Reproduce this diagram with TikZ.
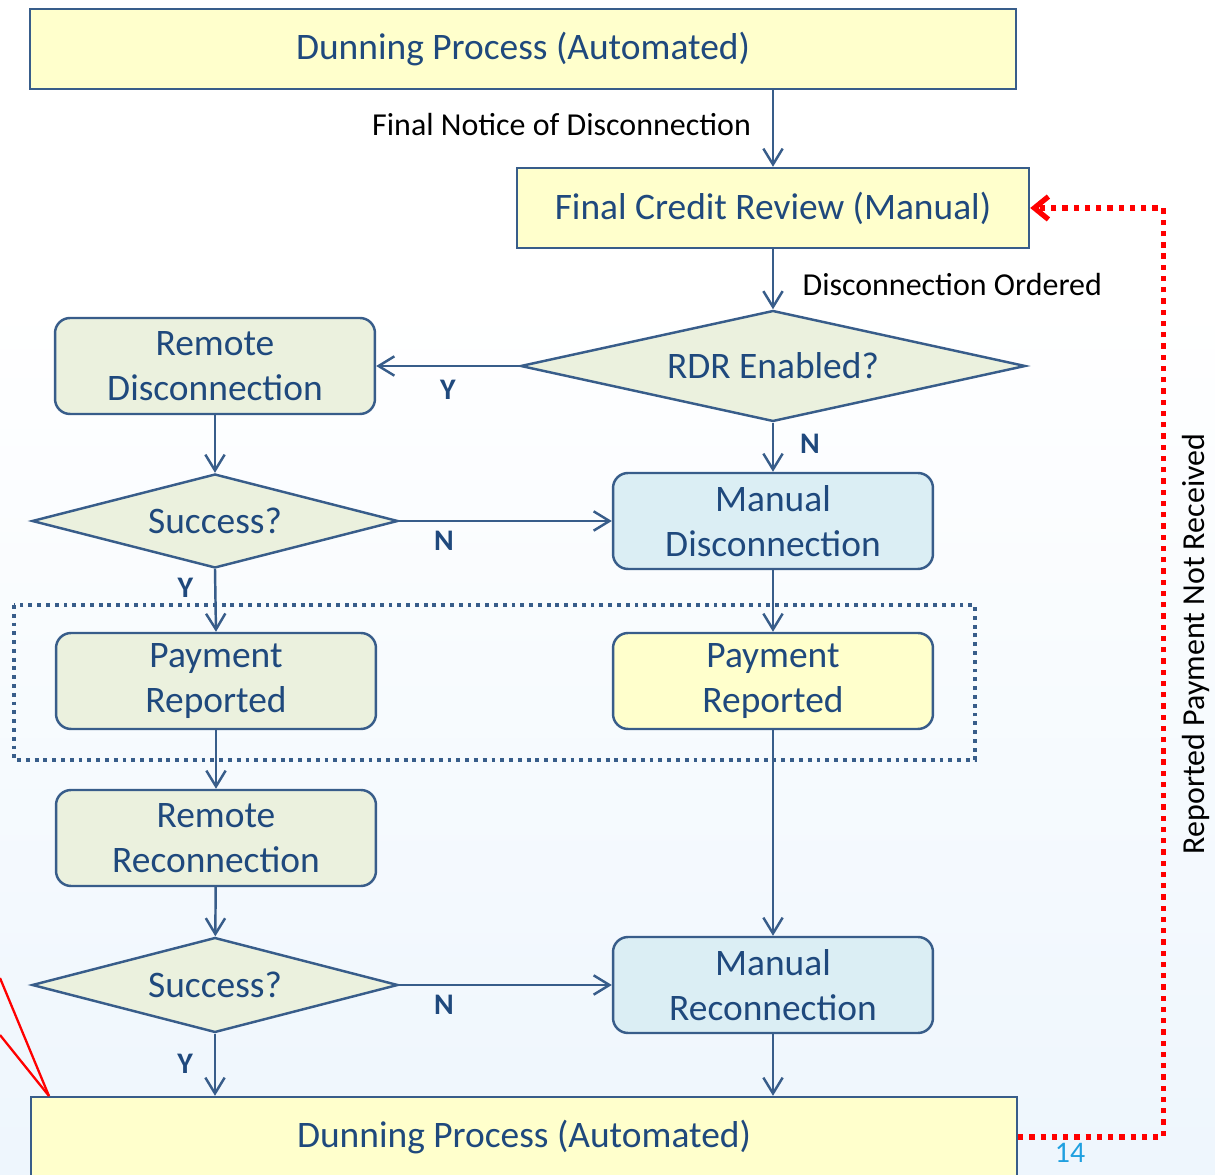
\documentclass[tikz,border=0pt]{standalone}
\usepackage{fontspec}
\setmainfont{Carlito}
\usetikzlibrary{arrows.meta, shapes.geometric, positioning}
\definecolor{TextBlue}{HTML}{1F497D}
\definecolor{LineBlue}{HTML}{385D8A}
\definecolor{BoxYellow}{HTML}{FFFFCC}
\definecolor{BoxGreen}{HTML}{EBF1DE}
\definecolor{BoxCyan}{HTML}{DBEEF4}
\definecolor{BgBlue}{HTML}{EEF6FD}
\definecolor{PageBlue}{HTML}{1FA0E0}
\tikzset{
  >={Straight Barb[length=9pt,width=11pt]},  % punte aperte
  % Blocchi del processo
  box/.style={draw=LineBlue,line width=1.4pt,text=TextBlue,align=center,inner sep=0pt,
    font=\fontsize{21.3}{26}\selectfont},
  box main/.style={box,fill=BoxYellow,minimum height=1.6cm},
  box step/.style={box,rounded corners=0.3cm,minimum width=6.4cm,minimum height=1.92cm},
  box remote/.style={box step,fill=BoxGreen},
  box manual/.style={box step,fill=BoxCyan},
  box paid/.style={box step,fill=BoxYellow},
  box test/.style={box,diamond,fill=BoxGreen,aspect=4},
  % Connessioni
  connect/.style={->,line width=1.4pt,LineBlue},
  connect back/.style={-{Straight Barb[length=8pt,width=13pt]},line width=3pt,red,
    dash pattern=on 3pt off 3.4pt},
  % Etichette
  tag/.style={text=black,font=\fontsize{18.2}{21}\selectfont},
  yn/.style={text=TextBlue,font=\bfseries\fontsize{17}{20}\selectfont}
}
\begin{document}
\begin{tikzpicture}[x=0.02cm,y=-0.02cm]
  \useasboundingbox (0,0) rectangle (1215,1175);
  \fill[white] (0,0) rectangle (1215,300);
  \fill[top color=white,bottom color=BgBlue] (0,300) rectangle (1215,1175);
  \draw[LineBlue,line width=2.2pt,dash pattern=on 2.2pt off 2.8pt] (14,605) rectangle (975,760);

  \node[box main,minimum width=19.72cm] (dun1) at (523,49) {Dunning Process (Automated)};
  \node[box main,minimum width=10.24cm] (review) at (773,208) {Final Credit Review (Manual)};
  \node[box test,minimum width=10.1cm,minimum height=2.22cm] (rdr) at (773,366) {RDR Enabled?};
  \node[box remote] (rdisc) at (215,366) {Remote\\Disconnection};
  \node[box test,minimum width=7.32cm,minimum height=1.88cm] (ok1) at (215,521) {Success?};
  \node[box manual] (mdisc) at (773,521) {Manual\\Disconnection};
  \node[box remote] (rpay) at (216,681) {Payment\\Reported};
  \node[box paid] (mpay) at (773,681) {Payment\\Reported};
  \node[box remote] (rrec) at (216,838) {Remote\\Reconnection};
  \node[box test,minimum width=7.32cm,minimum height=1.9cm] (ok2) at (215,985) {Success?};
  \node[box manual] (mrec) at (773,985) {Manual\\Reconnection};
  \node[box main,minimum width=19.72cm] (dun2) at (524,1137) {Dunning Process (Automated)};

  \draw[connect] (dun1.south -| review.north) -- node[tag,left=0.3cm,yshift=2pt] {Final Notice of Disconnection} (review.north);
  \draw[connect] (review) -- node[tag,right=0.45cm,yshift=-3pt] {Disconnection Ordered} (rdr);
  \draw[connect] (rdr) -- node[yn,below=4pt] {Y} (rdisc);
  \draw[connect] (rdr) -- node[yn,right=0.4cm,yshift=2pt] {N} (mdisc);
  \draw[connect] (rdisc) -- (ok1);
  \draw[connect] (ok1.east) -- node[yn,pos=0.21,below=2pt] {N} (mdisc.west);
  \draw[connect] (ok1.south) -- node[yn,pos=0.3,left=0.3cm] {Y} (rpay.north);
  \draw[connect] (mdisc) -- (mpay);
  \draw[connect] (rpay) -- (rrec);
  \draw[connect] (rrec) -- (ok2);
  \draw[connect] (ok2.east) -- node[yn,pos=0.21,below=2pt] {N} (mrec.west);
  \draw[connect] (mpay) -- (mrec);
  \draw[connect] (ok2.south) -- node[yn,pos=0.48,left=0.3cm] {Y} (ok2.south |- dun2.north);
  \draw[connect] (mrec.south) -- (mrec.south |- dun2.north);
  \draw[connect back] (dun2.east) -- ++(145,0) |- (review.east);
  \node[tag,rotate=90] (notpaid) at (1196,644) {Reported Payment Not Received};
  \node[text=PageBlue,font=\fontsize{17}{19}\selectfont] (page) at (1070,1153) {14};

  \coordinate (callout) at (49,1096);
  \draw[red,line width=1.3pt] (callout) -- (0,978);
  \draw[red,line width=1.3pt] (callout) -- (0,1035);
\end{tikzpicture}
\end{document}
